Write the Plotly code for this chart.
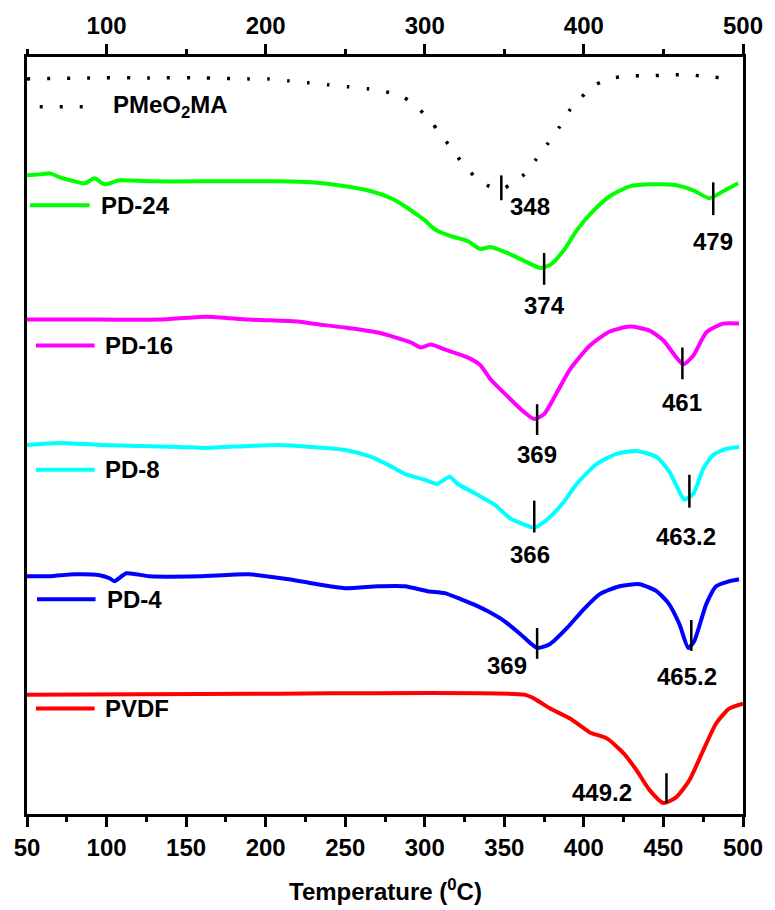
import plotly.graph_objects as go

# ---------------- data (DTG curves, arbitrary offset units) ----------------
pme_T = [50, 95.6, 126.9, 158.1, 189.4, 201.9, 214.4, 226.9, 239.4, 251.9, 264.4, 275.6, 286.3, 295.6,
         304.4, 308.8, 316.3, 323.8, 331.3, 340.6, 348.1, 353.1, 362.5, 369.4, 376.9, 384.4, 391.3,
         396.9, 403.8, 415.6, 428.1, 440.6, 453.8, 466.9, 479.4, 494]
pme_y = [739, 740, 740, 740, 739, 739, 737, 735, 733, 731, 729, 726, 721, 710,
         695, 686, 670, 654, 641, 631, 628, 632, 643, 657, 673, 690, 708,
         717, 730, 739, 742, 742, 743, 743, 741, 739]

pd24_T = [50, 58.1, 64.4, 70.6, 80, 86.3, 92.5, 98.8, 108.1, 126.9, 158.1, 189.4, 208.1, 228.8, 250,
          266.3, 278.8, 287.5, 295.6, 300, 303.8, 308.1, 316.3, 326.9, 335, 341.3, 351.9, 362.5,
          372.5, 378.8, 387.5, 395.6, 406.3, 416.3, 428.8, 443.8, 458.1, 468.8, 478.8, 487.5, 496.9]
pd24_y = [642, 643, 644, 640, 636, 634, 639, 633, 637, 636, 636, 636, 636, 635, 631,
          626, 619, 611, 602, 597, 591, 586, 581, 576, 568, 570, 564, 556,
          549, 552, 567, 587, 607, 621, 631, 633, 632, 627, 619, 626, 634]

pd16_T = [50, 95.6, 133, 162.5, 189.4, 220.6, 228.8, 250, 270.6, 291.3, 297.5, 303.8, 312.5, 326.9,
          335, 341.3, 353.8, 362.5, 368.8, 375, 383.1, 391.3, 403.8, 416.3, 428.8, 441.3, 450,
          458.1, 462.5, 468.8, 476.9, 487.5, 497.5]
pd16_y = [497, 497, 497, 500, 497, 495, 493, 489, 484, 474, 469, 472, 467, 459,
          451, 437, 417, 404, 397, 402, 424, 447, 471, 485, 490, 486, 476,
          459, 452, 461, 484, 493, 493]

pd8_T = [50, 70.6, 95.6, 145.6, 162.5, 189.4, 208.1, 228.8, 250, 266.3, 276.9, 287.5, 300, 308.1,
         315.6, 320.6, 333.1, 343.8, 353.8, 362.5, 368.8, 376.9, 387.5, 395.6, 408.1, 420.6, 433.1,
         445.6, 453.8, 460, 463.1, 468.8, 475, 481.3, 489.4, 497.5]
pd8_y = [371, 373, 371, 369, 368, 370, 371, 369, 366, 359, 351, 342, 336, 332,
         339, 332, 321, 311, 297, 291, 288, 296, 314, 332, 352, 362, 365,
         359, 344, 324, 316, 322, 347, 361, 367, 369]

pd4_T = [50, 64.4, 80, 95.6, 101.9, 105, 112.5, 126.9, 158.1, 189.4, 214.4, 228.8, 250, 270.6,
         287.5, 301.9, 312.5, 322.5, 333.1, 339.4, 350, 360, 370.6, 378.8, 389.4, 400, 410,
         422.5, 435, 445.6, 453.1, 460, 465.6, 469.4, 476.9, 483.1, 491.3, 497.5]
pd4_y = [239, 239, 241, 240, 237, 234, 242, 239, 239, 241, 236, 232, 227, 229,
         229, 224, 222, 216, 209, 204, 194, 181, 167, 171, 187, 206, 221,
         229, 231, 224, 212, 191, 167, 174, 211, 229, 234, 236]

pvdf_T = [50, 208.1, 362.5, 368.8, 378.8, 391.3, 403.8, 414.4, 425, 433.1, 441.3, 450, 458.1,
          466.3, 475, 483.1, 491.3, 500]
pvdf_y = [120, 121, 120, 116, 106, 96, 82, 76, 61, 44, 24, 11, 17,
          34, 64, 91, 106, 111]

series_names = ["PMeO<sub>2</sub>MA", "PD-24", "PD-16", "PD-8", "PD-4", "PVDF"]

# peak labels
peak_text = ["348", "374", "479", "369", "461", "366", "463.2", "369", "465.2", "449.2"]
peak_line_T = [348.1, 375, 481.3, 370.6, 461.9, 368.8, 466.3, 370.6, 467.5, 451.9]
peak_line_y0 = [617, 532, 602, 381, 437, 283, 308, 156, 164, 11]
peak_line_y1 = [642, 564, 635, 412, 469, 315, 341, 187, 195, 41]
peak_text_T = [352.5, 375, 481.3, 370.6, 461.9, 366.3, 464.4, 351.9, 465, 411.3]
peak_text_y = [611, 511, 576, 361, 414, 261, 279, 149, 138, 22]

x_ticks_bottom = [50, 100, 150, 200, 250, 300, 350, 400, 450, 500]
x_ticks_top = [100, 200, 300, 400, 500]

FONT = "Liberation Sans, Arial, sans-serif"
FS = 24

fig = go.Figure()

curves = [
    (pme_T, pme_y, "black", "3px,17px", 3.5),
    (pd24_T, pd24_y, "#00FF00", "solid", 4),
    (pd16_T, pd16_y, "#FF00FF", "solid", 4),
    (pd8_T, pd8_y, "#00FFFF", "solid", 4),
    (pd4_T, pd4_y, "#0000FF", "solid", 4),
    (pvdf_T, pvdf_y, "#FF0000", "solid", 4),
]
for (tx, ty, col, dash, w), name in zip(curves, series_names):
    fig.add_trace(go.Scatter(x=tx, y=ty, mode="lines", name=name,
                             line=dict(color=col, width=w, dash=dash, shape="spline", smoothing=0.6),
                             showlegend=False, hoverinfo="skip"))

# top axis carrier
fig.add_trace(go.Scatter(x=[50, 500], y=[0, 0], xaxis="x2", mode="lines",
                         line=dict(width=0), showlegend=False, hoverinfo="skip"))

# legend-like labels next to each curve
leg_pos = [  # (T0, T1, y, text_T)
    (58, 91, 711, 103),
    (51.9, 89.4, 612, 95),
    (55.6, 92.5, 471, 97.5),
    (55.6, 92.5, 346, 97.5),
    (56.3, 93.1, 216, 98.8),
    (55.6, 92.5, 106, 97.5),
]
for (t0, t1, yy, tt), (_, _, col, dash, w), name in zip(leg_pos, curves, series_names):
    fig.add_trace(go.Scatter(x=[t0, t1], y=[yy, yy], mode="lines",
                             line=dict(color=col, width=w, dash=dash),
                             showlegend=False, hoverinfo="skip"))
    fig.add_annotation(x=tt, y=yy, text=name, showarrow=False, xanchor="left", yanchor="middle",
                       font=dict(family=FONT, size=FS, color="black", weight="bold"))

for i, txt in enumerate(peak_text):
    fig.add_shape(type="line", x0=peak_line_T[i], x1=peak_line_T[i], y0=peak_line_y0[i], y1=peak_line_y1[i],
                  line=dict(color="black", width=2.5))
    fig.add_annotation(x=peak_text_T[i], y=peak_text_y[i], text=txt, showarrow=False,
                       xanchor="left" if i == 0 else "center", yanchor="middle",
                       font=dict(family=FONT, size=FS, color="black", weight="bold"))

fig.add_annotation(x=0.5, y=-0.1, xref="paper", yref="paper", text="Temperature (<sup>0</sup>C)",
                   showarrow=False, yanchor="middle",
                   font=dict(family=FONT, size=FS, color="black", weight="bold"))

axis_common = dict(range=[50, 500], showline=True, linecolor="black", linewidth=3,
                   ticks="outside", ticklen=10, tickwidth=2.5, tickcolor="black",
                   showgrid=False, zeroline=False,
                   tickfont=dict(family=FONT, size=FS, color="black", weight="bold"))

fig.update_layout(
    width=775, height=910,
    margin=dict(l=27, r=27, t=53, b=96),
    paper_bgcolor="white", plot_bgcolor="white",
    xaxis=dict(**axis_common, tickvals=x_ticks_bottom,
               minor=dict(dtick=25, tick0=50, ticks="outside", ticklen=5, tickwidth=2.5, tickcolor="black")),
    xaxis2=dict(**axis_common, overlaying="x", side="top", tickvals=x_ticks_top,
                minor=dict(dtick=50, tick0=50, ticks="outside", ticklen=5, tickwidth=2.5, tickcolor="black")),
    yaxis=dict(range=[0, 761], showline=True, mirror=True, linecolor="black", linewidth=3,
               showticklabels=False, ticks="", showgrid=False, zeroline=False),
)

fig.write_html("out.html")
